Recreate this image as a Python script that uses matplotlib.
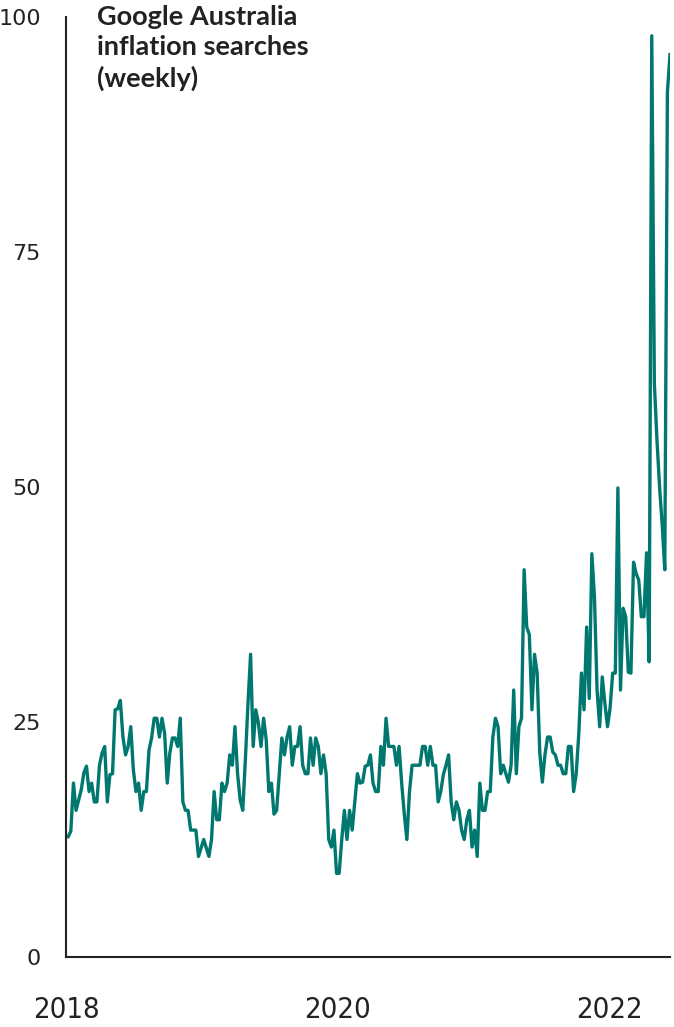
import numpy as np
import pandas as pd
import matplotlib
matplotlib.use("Agg")
import matplotlib.pyplot as plt

# Google Trends index, weekly (one list per year)
searches_2018 = [12.8, 13.4, 18.5, 15.6, 16.7, 17.8, 19.6, 20.3, 17.6, 18.5, 16.5, 16.5, 20.4,
                 21.7, 22.4, 16.5, 19.4, 19.5, 26.3, 26.4, 27.3, 23.4, 21.5, 22.4, 24.5, 19.9,
                 17.6, 18.5, 15.6, 17.6, 17.6, 22.0, 23.3, 25.4, 25.4, 23.4, 25.4, 23.8, 18.5,
                 21.7, 23.3, 23.3, 22.4, 25.4, 16.5, 15.6, 15.6, 13.5, 13.5, 13.5, 10.7, 11.6]
searches_2019 = [12.5, 11.6, 10.7, 12.5, 17.6, 14.6, 14.6, 18.5, 17.6, 18.5, 21.5, 20.4, 24.5,
                 19.5, 16.7, 15.6, 21.0, 27.0, 32.2, 22.4, 26.3, 24.9, 22.4, 25.4, 23.1, 17.6,
                 18.5, 15.2, 15.6, 19.4, 23.3, 21.5, 23.4, 24.5, 20.4, 22.4, 22.4, 24.5, 20.4,
                 19.5, 19.5, 23.3, 20.4, 23.3, 22.4, 19.5, 21.5, 19.5, 12.5, 11.7, 13.5, 8.9]
searches_2020 = [8.9, 12.5, 15.6, 12.5, 15.6, 13.5, 16.5, 19.5, 18.5, 18.6, 20.3, 20.4, 21.5,
                 18.5, 17.6, 17.6, 22.4, 20.4, 25.4, 22.4, 22.4, 22.4, 20.4, 22.4, 18.5, 15.2,
                 12.5, 17.6, 20.4, 20.4, 20.4, 20.4, 22.4, 22.4, 20.4, 22.4, 20.4, 20.4, 16.5,
                 17.6, 19.4, 20.4, 21.5, 16.5, 14.6, 16.5, 15.6, 13.5, 12.5, 14.6, 15.6, 11.7]
searches_2021 = [13.5, 10.7, 18.5, 15.6, 15.6, 17.6, 17.6, 23.4, 25.4, 24.5, 19.5, 20.4, 19.5,
                 18.6, 20.4, 28.4, 19.5, 24.5, 25.4, 41.2, 35.1, 34.3, 26.3, 32.2, 30.2, 21.8,
                 18.6, 21.5, 23.4, 23.4, 21.8, 21.5, 20.4, 20.4, 19.5, 19.5, 22.4, 22.4, 17.6,
                 19.5, 23.8, 30.2, 26.3, 35.1, 27.5, 42.9, 38.3, 28.4, 24.5, 29.8, 27.0, 24.5]
searches_2022 = [26.5, 30.2, 30.2, 49.9, 28.4, 37.1, 36.2, 30.3, 30.2, 42.0, 40.8, 40.1,
                 36.2, 36.2, 43.0, 31.4, 98.0, 61.0, 55.0, 50.0, 46.0, 41.2, 92.0, 96.0]

y_ticks = [0, 25, 50, 75, 100]
x_tick_years = ["2018", "2020", "2022"]
title = "Google Australia\ninflation searches\n(weekly)"

values = np.concatenate([searches_2018, searches_2019, searches_2020,
                         searches_2021, searches_2022])
dates = pd.date_range("2018-01-07", periods=len(values), freq="W-SUN")

TEAL = "#00786f"
INK = "#222222"

fig = plt.figure(figsize=(6.74, 10.27), dpi=100)
ax = fig.add_axes([66 / 674, 70 / 1027, 604 / 674, 940 / 1027])

ax.plot(dates, values, color=TEAL, lw=2.4, solid_joinstyle="round")

ax.set_ylim(0, 100)
ax.set_xlim(dates[0], dates[-1])
ax.set_yticks(y_ticks)
ax.set_yticklabels([str(v) for v in y_ticks], fontsize=16, color=INK,
                   family="DejaVu Sans")
ax.set_xticks(pd.to_datetime([y + "-01-01" for y in x_tick_years]))
ax.set_xticklabels(x_tick_years, fontsize=21, color=INK,
                   family="DejaVu Sans", fontstretch="condensed")
ax.tick_params(axis="y", length=0, pad=18)
ax.tick_params(axis="x", length=0, pad=28)

for side in ("top", "right"):
    ax.spines[side].set_visible(False)
for side in ("left", "bottom"):
    ax.spines[side].set_color(INK)
    ax.spines[side].set_linewidth(1.5)

fig.text(97 / 674, 1 - 5 / 1027, title, ha="left", va="top", fontsize=19.5,
         fontweight="bold", family=["Lato", "DejaVu Sans"], color=INK,
         linespacing=1.3)

fig.savefig("out.png", dpi=100)
